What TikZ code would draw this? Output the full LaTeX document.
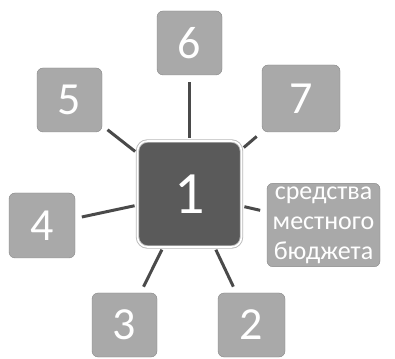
\documentclass[tikz,border=0pt]{standalone}
\usepackage{fontspec}
\setmainfont{Carlito}
\usetikzlibrary{positioning}
\definecolor{boxgray}{HTML}{A9A9A9}
\definecolor{hubgray}{HTML}{5A5A5A}
\definecolor{spokegray}{HTML}{4A4A4A}
\begin{document}
\begin{tikzpicture}[x=1pt, y=1pt,
        box/.style={fill=boxgray, draw=boxgray!80!black, rounded corners=6pt, outer sep=0pt, minimum width=65pt, minimum height=64pt, text=white, font=\fontsize{46}{46}\selectfont},
        hub/.style={fill=hubgray, draw=gray!55, double=white, double distance=1.6pt, line width=0.9pt, rounded corners=10pt, outer sep=0pt, minimum width=104pt, minimum height=106pt, text=white, font=\fontsize{60}{60}\selectfont},
        spoke/.style={draw=spokegray, line width=3pt, shorten <=3pt, shorten >=7pt}]
    \useasboundingbox (0,0) rectangle (395,358);
    \node[hub] (c) at (189.5,164) {1};
    \node[box, above=66pt of c] (n6) {6};
    \node[box, left=35.5pt of c, yshift=94pt] (n5) {5};
    \node[box, right=20.5pt of c, yshift=95.5pt, minimum width=78pt, minimum height=67pt] (n7) {7};
    \node[box, left=62.5pt of c, yshift=-31.5pt, minimum width=66pt, minimum height=65pt] (n4) {4};
    \node[box, right=25.5pt of c, yshift=-31pt, minimum width=113pt, minimum height=80pt, align=center, font=\fontsize{26}{30}\selectfont] (nt) {средства\\ местного\\ бюджета};
    \node[box, below=46pt of c, xshift=-65pt] (n3) {3};
    \node[box, below=46pt of c, xshift=62pt, minimum width=67pt] (n2) {2};
    \foreach \p in {n2,n3,n4,n5,n6,n7,nt} \draw[spoke] (c) -- (\p);
\end{tikzpicture}
\end{document}
